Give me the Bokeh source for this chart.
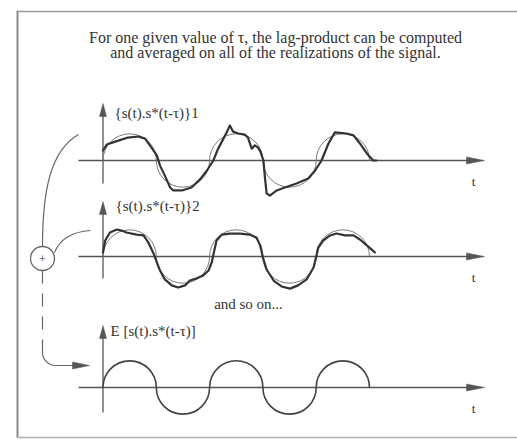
from bokeh.plotting import figure
from bokeh.models import Range1d
from bokeh.embed import file_html
from bokeh.resources import INLINE
from bokeh.core.properties import value
import math

# ---------------- data ----------------
title_lines = ["For one given value of τ, the lag-product can be computed",
               "and averaged on all of the realizations of the signal."]
panel_labels = ["{s(t).s*(t-τ)}1", "{s(t).s*(t-τ)}2", "E [s(t).s*(t-τ)]"]
axis_name = "t"
between_text = "and so on..."
sum_symbol = "+"

# mean lag-product: one half-period hump per unit of t
hump_t = [0.5, 1.5, 2.5, 3.5, 4.5]
hump_sign = [1, -1, 1, -1, 1]

# realization 1 of the lag-product (t in half-periods, amplitude in hump heights)
real1_t = [0.00, 0.07, 0.23, 0.47, 0.66, 0.79, 0.91, 1.01, 1.07, 1.16, 1.26, 1.32,
           1.48, 1.66, 1.82, 1.95, 2.07, 2.16, 2.26, 2.32, 2.38, 2.44, 2.54, 2.66,
           2.72, 2.79, 2.85, 2.91, 2.96, 3.01, 3.04, 3.07, 3.13, 3.26, 3.41, 3.63,
           3.85, 3.98, 4.10, 4.23, 4.35, 4.57, 4.70, 4.82, 4.95, 5.07, 5.13]
real1_a = [0.37, 0.59, 0.70, 0.85, 0.89, 0.81, 0.48, 0.19, -0.19, -0.56, -1.00, -1.11,
           -1.11, -1.00, -0.70, -0.37, 0.00, 0.44, 0.81, 1.04, 1.30, 1.07, 1.00, 0.96,
           0.85, 0.44, 0.56, 0.48, 0.30, 0.00, -0.67, -1.22, -1.30, -1.11, -1.00, -0.85,
           -0.67, -0.37, 0.00, 0.63, 1.04, 1.00, 0.93, 0.63, 0.26, 0.00, 0.00]

# realization 2 of the lag-product
real2_t = [0.00, 0.04, 0.13, 0.26, 0.35, 0.44, 0.63, 0.76, 0.85, 0.94, 1.01, 1.07,
           1.16, 1.29, 1.41, 1.54, 1.63, 1.76, 1.88, 1.98, 2.04, 2.08, 2.13, 2.23,
           2.38, 2.57, 2.76, 2.88, 2.95, 3.00, 3.07, 3.20, 3.35, 3.51, 3.66, 3.82,
           3.95, 4.01, 4.04, 4.13, 4.26, 4.38, 4.54, 4.70, 4.82, 4.95, 5.10]
real2_a = [0.15, 0.59, 0.89, 1.00, 0.96, 0.89, 0.81, 0.78, 0.52, 0.15, -0.22, -0.52,
           -0.85, -1.07, -1.15, -1.07, -0.89, -0.81, -0.70, -0.52, -0.22, 0.15, 0.59, 0.81,
           0.85, 0.85, 0.81, 0.70, 0.41, -0.04, -0.48, -0.89, -1.11, -1.19, -1.07, -0.85,
           -0.41, 0.07, 0.33, 0.59, 0.78, 0.85, 0.78, 0.78, 0.63, 0.41, 0.15]

# ---------------- layout (page pixels of the reference) ----------------
W, H = 517, 444


def X(px):
    return px


def Y(py):
    return H - py


T0 = 102.5        # page x of t = 0
TS = 53.3         # px per unit of t
AS = 27.0         # px per amplitude unit
baselines = [160, 256, 387]
vtop = [103, 201, 325]
vbot = [183, 278, 412]
label_x = [114, 115, 110]
label_y = [112, 205, 330]
h_start, h_tip = 78, 484

AX = "#555555"
DARK = "#333333"
THIN = "#7a7a7a"
SERIF = value("Liberation Serif")

p = figure(width=W, height=H, x_range=Range1d(0, W), y_range=Range1d(0, H),
           output_backend="svg", toolbar_location=None, min_border=0,
           x_axis_type=None, y_axis_type=None)
p.outline_line_color = None
p.grid.visible = False
p.background_fill_color = "white"

# frame of the figure
p.line([X(17), X(17)], [Y(10), Y(437)], line_color="#8a8a8a", line_width=2)
p.line([X(17), X(517)], [Y(11), Y(11)], line_color="#9a9a9a", line_width=1.5)
p.line([X(17), X(517)], [Y(437), Y(437)], line_color="#b0b0b0", line_width=1.5)

# title
p.text(x=[X(275), X(275)], y=[Y(37), Y(52)], text=title_lines, text_font=SERIF,
       text_font_size="16px", text_align="center", text_baseline="middle",
       text_color=DARK)


def tx(t):
    return X(T0 + t * TS)


for i, b in enumerate(baselines):
    # horizontal axis with arrowhead
    p.line([X(h_start), X(h_tip - 14)], [Y(b), Y(b)], line_color=AX, line_width=1.3)
    p.patch([X(h_tip), X(h_tip - 18), X(h_tip - 18)],
            [Y(b), Y(b - 3.5), Y(b + 3.5)], fill_color=AX, line_color=AX, line_width=0.5)
    # vertical axis with arrowhead
    p.line([X(T0), X(T0)], [Y(vbot[i]), Y(vtop[i] + 10)], line_color=AX, line_width=1.3)
    p.patch([X(T0), X(T0 - 3.5), X(T0 + 3.5)],
            [Y(vtop[i]), Y(vtop[i] + 13), Y(vtop[i] + 13)], fill_color=AX,
            line_color=AX, line_width=0.5)
    p.text(x=[X(label_x[i])], y=[Y(label_y[i])], text=[panel_labels[i]], text_font=SERIF,
           text_font_size="15px", text_align="left", text_baseline="middle",
           text_color=DARK)
    p.text(x=[X(473)], y=[Y(b + 21)], text=[axis_name], text_font=SERIF,
           text_font_size="13px", text_align="center", text_baseline="middle",
           text_color=DARK)

    # mean lag-product humps (semicircles)
    cx = [tx(t) for t in hump_t]
    starts = [0 if s > 0 else math.pi for s in hump_sign]
    ends = [math.pi if s > 0 else 2 * math.pi for s in hump_sign]
    p.arc(x=cx, y=[Y(b)] * len(cx), radius=TS / 2, start_angle=starts, end_angle=ends,
          line_color=(THIN if i < 2 else "#444444"), line_width=(1 if i < 2 else 1.6))

# realizations
for i, (ts, aa) in enumerate([(real1_t, real1_a), (real2_t, real2_a)]):
    b = baselines[i]
    p.line([tx(t) for t in ts], [Y(b) + a * AS for a in aa], line_color=DARK,
           line_width=2.2, line_join="round", line_cap="round")

# "and so on..."
p.text(x=[X(248)], y=[Y(303)], text=[between_text], text_font=SERIF,
       text_font_size="15px", text_align="center", text_baseline="middle",
       text_color=DARK)

# summation node and connectors
CIRC = (42, 258)
p.circle(x=[X(CIRC[0])], y=[Y(CIRC[1])], radius=12, fill_color="white",
         line_color="#666666", line_width=1.3)
p.text(x=[X(CIRC[0])], y=[Y(CIRC[1]) - 0.5], text=[sum_symbol], text_font=SERIF,
       text_font_size="12px", text_align="center", text_baseline="middle",
       text_color=DARK)
p.bezier(x0=[X(42)], y0=[Y(246)], x1=[X(78)], y1=[Y(134)],
         cx0=[X(42)], cy0=[Y(190)], cx1=[X(50)], cy1=[Y(150)],
         line_color="#666666", line_width=1.2)
p.quadratic(x0=[X(54)], y0=[Y(252)], x1=[X(90)], y1=[Y(230)],
            cx=[X(62)], cy=[Y(232)], line_color="#666666", line_width=1.2)
# dashed link down to the mean
p.line([X(42), X(42)], [Y(270), Y(352)], line_color="#666666", line_width=1.2,
       line_dash="13 10")
p.arc(x=[X(55)], y=[Y(352)], radius=13, start_angle=math.pi, end_angle=1.5 * math.pi,
      line_color="#666666", line_width=1.2)
p.line([X(55), X(74)], [Y(365), Y(365)], line_color="#666666", line_width=1.2)
p.patch([X(89), X(72), X(72)], [Y(365), Y(361.5), Y(368.5)], fill_color="#555555",
        line_color="#555555", line_width=0.5)

open("out.html", "w").write(file_html(p, INLINE))
